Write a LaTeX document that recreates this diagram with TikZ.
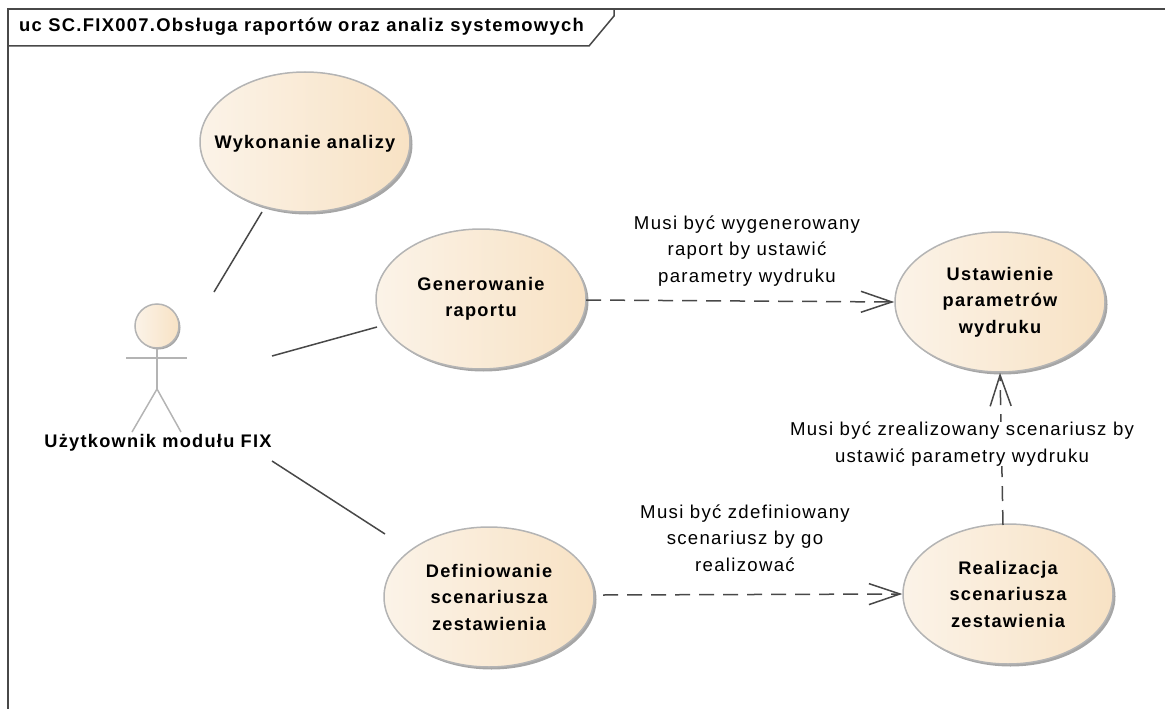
\documentclass[tikz,border=0pt]{standalone}
\usepackage{fontspec}
\setmainfont[LetterSpace=7]{Liberation Sans}
\usetikzlibrary{shapes.geometric,arrows.meta,shadows}
\definecolor{ucleft}{HTML}{FBF3E8}
\definecolor{ucright}{HTML}{F8E2C4}
\definecolor{ucedge}{HTML}{B4B4B4}
\definecolor{linecol}{HTML}{484848}
\tikzset{
  usecase/.style={ellipse,draw=ucedge,line width=1.5pt,left color=ucleft,right color=ucright,
    general shadow={shadow xshift=2.5pt,shadow yshift=-2.5pt,fill=black!35},
    minimum width=210pt,minimum height=140pt,inner ysep=0pt,inner xsep=-40pt,align=center,
    font=\fontsize{18.2}{26.5}\selectfont\bfseries,
    execute at begin node={\rule{0pt}{16.5pt}}},
  assoc/.style={draw=linecol,line width=1.5pt},
  dep/.style={draw=linecol,line width=1.5pt,dash pattern=on 15pt off 9pt,
    -{Straight Barb[length=31pt,width=21pt,line width=1.5pt]}},
  note/.style={align=center,inner sep=0pt,font=\fontsize{18.6}{26.6}\selectfont},
  actorline/.style={draw=ucedge,line width=1.5pt},
  framebox/.style={draw=linecol,line width=1.5pt}
}
\begin{document}
\begin{tikzpicture}[x=1pt,y=-1pt]
\useasboundingbox (0,0) rectangle (1165,709);
% frame
\draw[framebox] (8,709) -- (8,9) -- (1165,9);
\draw[framebox] (8,46) -- (589,46) -- (614,16) -- (614,9);
\node[anchor=west,inner sep=0pt,font=\fontsize{18.4}{20}\selectfont\bfseries] (title) at (19,27) {uc SC.FIX007.Obsługa raportów oraz analiz systemowych};
% use cases
\node[usecase] (wyk) at (305,142) {Wykonanie analizy};
\node[usecase] (gen) at (481,299) {Generowanie\\raportu};
\node[usecase] (ust) at (1000,302) {Ustawienie\\parametrów\\wydruku};
\node[usecase] (rea) at (1008,594) {Realizacja\\scenariusza\\zestawienia};
\node[usecase] (def) at (489,597) {Definiowanie\\scenariusza\\zestawienia};
% actor
\node[circle,draw=ucedge,line width=1.5pt,left color=ucleft,right color=ucright,
  general shadow={shadow xshift=1.5pt,shadow yshift=-1.5pt,fill=black!35},
  minimum size=44pt,inner sep=0pt] (head) at (157,326) {};
\coordinate (armL) at (126,358);
\coordinate (armR) at (187,358);
\coordinate (hip) at (157,389);
\coordinate (legL) at (132,432);
\coordinate (legR) at (181,432);
\draw[actorline] (head.south) -- (hip);
\draw[actorline] (armL) -- (armR);
\draw[actorline] (legL) -- (hip) -- (legR);
\node[inner sep=0pt,font=\fontsize{18.2}{20}\selectfont\bfseries] (user) at (158,443) {Użytkownik modułu FIX};
% associations
\coordinate (a1) at (214,292);
\coordinate (a2) at (272,356);
\coordinate (a3) at (272,461);
\coordinate (b1) at (262,212);
\coordinate (b2) at (377,327);
\coordinate (b3) at (385,534);
\draw[assoc] (a1) -- (b1);
\draw[assoc] (a2) -- (b2);
\draw[assoc] (a3) -- (b3);
% dependencies
\coordinate (d1) at (586,300);
\coordinate (d2) at (603,595);
\coordinate (d3) at (1003,525);
\draw[dep] (d1) -- (ust.west);
\draw[dep] (d2) -- (rea.west);
\draw[dep] (d3) -- (ust.south);
% labels
\node[note] (n1) at (747,251) {Musi być wygenerowany\\raport by ustawić\\parametry wydruku};
\node[note] (n2) at (745,538) {Musi być zdefiniowany\\scenariusz by go\\realizować};
\node[note,fill=white] (n3) at (962,444) {Musi być zrealizowany scenariusz by\\ustawić parametry wydruku};
\end{tikzpicture}
\end{document}
